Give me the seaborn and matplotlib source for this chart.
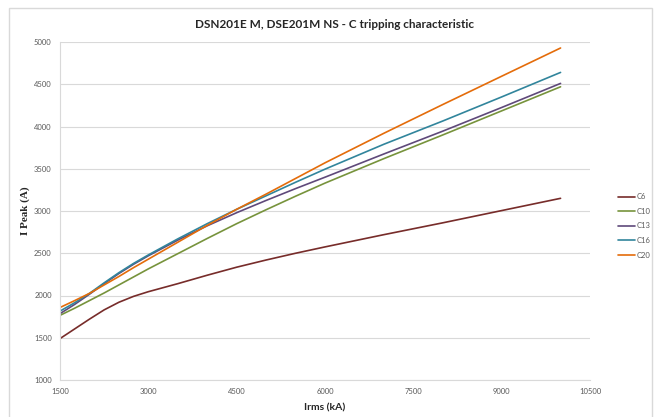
import pandas as pd
import matplotlib.pyplot as plt
import seaborn as sns
from matplotlib.patches import Rectangle

# Data
irms = [1500, 1750, 2000, 2250, 2500, 2750, 3000, 3500, 4000, 4500,
        5000, 5500, 6000, 7000, 8000, 9000, 10000]
c6 = [1490, 1605, 1720, 1830, 1920, 1990, 2045, 2140, 2240, 2335,
      2420, 2500, 2575, 2720, 2860, 3005, 3150]
c10 = [1765, 1850, 1940, 2030, 2125, 2220, 2315, 2495, 2675, 2850,
       3015, 3175, 3330, 3620, 3900, 4185, 4470]
c13 = [1785, 1895, 2015, 2140, 2260, 2370, 2470, 2655, 2825, 2980,
       3125, 3265, 3400, 3675, 3945, 4225, 4510]
c16 = [1815, 1915, 2025, 2150, 2270, 2380, 2480, 2670, 2850, 3020,
       3180, 3340, 3495, 3790, 4065, 4350, 4640]
c20 = [1858, 1940, 2025, 2125, 2225, 2330, 2430, 2630, 2830, 3020,
       3200, 3385, 3570, 3920, 4260, 4595, 4929]
series_names = ['C6', 'C10', 'C13', 'C16', 'C20']
colors = ['#772C2A', '#77933C', '#5F497A', '#31859C', '#E46C0A']

x_ticks = [1500, 3000, 4500, 6000, 7500, 9000, 10500]
y_ticks = [1000, 1500, 2000, 2500, 3000, 3500, 4000, 4500, 5000]

df = pd.DataFrame({'Irms': irms * 5,
                   'Ipeak': c6 + c10 + c13 + c16 + c20,
                   'Curve': [n for n in series_names for _ in irms]})

sns.set_style('white')
plt.rcParams['font.family'] = ['Lato', 'DejaVu Sans']

fig = plt.figure(figsize=(6.61, 4.17), dpi=100)
ax = fig.add_axes([60 / 661, 1 - 380 / 417, 530 / 661, 338 / 417])

sns.lineplot(data=df, x='Irms', y='Ipeak', hue='Curve', palette=colors,
             linewidth=1.2, ax=ax, legend=True, sort=False)

ax.set_xlim(1500, 10500)
ax.set_ylim(1000, 5000)
ax.set_xticks(x_ticks)
ax.set_yticks(y_ticks)
ax.tick_params(axis='both', labelsize=5.5, labelcolor='#595959', length=0, pad=6)
ax.yaxis.grid(True, color='#D9D9D9', linewidth=0.8)
ax.xaxis.grid(False)
for side in ['top', 'right']:
    ax.spines[side].set_visible(False)
for side in ['left', 'bottom']:
    ax.spines[side].set_color('#D9D9D9')
    ax.spines[side].set_linewidth(0.8)

ax.set_xlabel('Irms (kA)', fontsize=7.5, fontweight='bold', labelpad=6)
ax.set_ylabel('I Peak (A)', fontsize=8, fontweight='bold',
              family='Liberation Serif', labelpad=3)
fig.text(335 / 661, 1 - 24 / 417,
         'DSN201E M, DSE201M NS - C tripping characteristic',
         fontsize=8.5, fontweight='bold', ha='center', va='center')

leg = ax.legend(loc='center left', bbox_to_anchor=(611 / 661, 1 - 226 / 417),
                bbox_transform=fig.transFigure, frameon=False, fontsize=5.5,
                handlelength=2.2, labelspacing=1.0, handletextpad=0.2)
for t in leg.get_texts():
    t.set_color('#595959')

# chart area border
fig.patches.append(Rectangle((9 / 661, -0.05), 643 / 661, 1.05 - 8 / 417,
                             transform=fig.transFigure, fill=False,
                             edgecolor='#D9D9D9', linewidth=1.0))

fig.savefig('out.png', dpi=100)
